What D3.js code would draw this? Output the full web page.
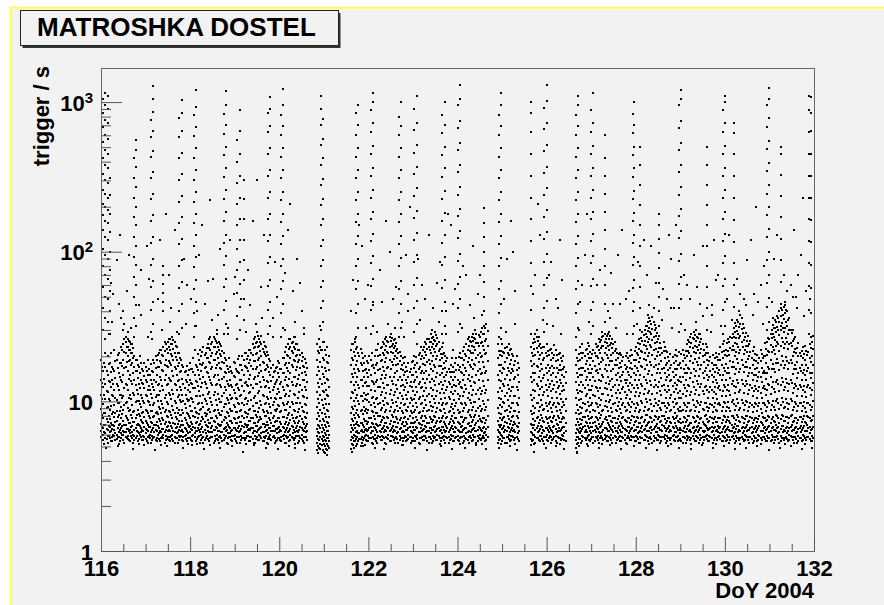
<!DOCTYPE html>
<html>
<head>
<meta charset="utf-8">
<script src="https://cdn.jsdelivr.net/npm/d3@7"></script>
<style>
  body { margin: 0; background: #fff; }
  svg text { font-family: "Liberation Sans", Arial, Helvetica, sans-serif; font-weight: bold; }
</style>
</head>
<body>
<div id="chart"></div>
<script>

// trigger rate samples, one array per day, 20 columns per day (0.05 d apart), [] = no data
// the "b" arrays are the samples taken half a column later
var colStep = 0.05;

var d116 = [
  [5.8,6.3,7.1,8.9,11,14,19], [5.5,6.0,6.6,7.8,9.6,12.5,16], [6.1,5.7,6.9,8.3,10.4,13,17,21],
  [5.3,5.9,6.4,7.3,9.1,11.5,15,20], [5.7,6.2,6.7,7.6,8.7,10,13.5,18], [5.4,5.8,6.5,7.0,8.2,11,14,17,34],
  [5.9,6.4,6.8,7.9,9.4,12,16,22], [5.6,6.0,7.4,8.6,10.2,13,19], [5.2,5.8,6.2,7.0,8.1,9.8,12,15.5,21,45],
  [5.7,6.1,6.6,7.7,9.2,11,14,18,23], [5.5,6.0,6.3,7.4,8.7,10.8,15,19,24,30], [5.8,6.2,6.9,8.0,9.7,13,17,21,25,27],
  [5.6,5.9,6.5,7.5,9.0,12,16,20,23,26,29], [5.4,6.1,6.4,7.2,8.8,11,15,19,22,25], [5.7,6.2,6.8,7.8,9.5,13,18,21,24],
  [5.5,5.9,6.4,7.3,8.6,11,14,17,20], [5.9,6.3,7.0,8.1,10,12,16,19], [5.2,5.6,6.1,6.9,8.2,10,13,17],
  [5.8,6.2,6.6,7.5,9.1,11,14,18,38], [5.5,5.9,6.3,7.2,8.5,10,13,16]
];
var d116b = [
  [6.0,6.7,8.1,10.3,13.2,17], [5.2,6.2,7.0,8.4,11,14.2,18], [5.6,6.5,7.6,9.0,11.8,16],
  [5.9,6.8,8.0,10.4,13.6,17.8], [5.4,6.3,7.2,9.3,12.4,15.8,21], [6.0,6.9,8.5,10.8,13,16.5],
  [5.5,6.1,7.3,8.4,10.6,14.3,18.5], [5.8,6.6,7.9,9.8,12.6,16.8,20.5], [5.4,6.4,7.1,8.6,11,14.6,18],
  [6.0,6.8,8.2,10.5,13.4,17.2,22], [5.3,6.2,7.0,9.4,12.3,16.6,21.5,26], [5.7,6.5,7.7,9.9,12.8,18.2,23.2],
  [5.5,6.3,7.2,8.6,10.6,14.2,18.5,22,25.5], [5.9,6.7,8.1,10.3,13.6,17.5,21,24], [5.3,6.0,7.3,8.5,11.4,15.4,19.6,22.8],
  [5.7,6.6,7.8,9.9,12.8,16,19], [5.4,6.2,7.1,8.7,11.2,14.4,17.6], [6.0,6.8,8.0,9.6,12.2,15.5,20],
  [5.5,6.4,7.3,8.4,10.5,13.2,16.4], [5.8,6.7,7.9,9.7,12.2,14.8,18]
];
var d117 = [
  [5.6,6.1,6.5,7.4,8.8,11,14,17], [5.3,5.8,6.3,7.0,8.3,10,12,15,19], [5.7,6.0,6.7,7.8,9.4,12,15],
  [5.5,5.9,6.4,7.2,8.6,10.5,13,16,26], [5.8,6.2,6.9,8.0,9.8,12,14,18], [5.4,5.7,6.3,7.3,8.5,11,15,19],
  [5.6,6.1,6.6,7.6,9.1,11,13,17,21], [5.1,5.7,6.2,7.1,8.4,10,14,18,22], [5.7,6.0,6.5,7.5,9.0,12,16,20,23],
  [5.5,5.9,6.4,7.3,8.7,11,15,19,24], [5.8,6.3,6.8,7.9,9.6,13,17,21,25], [5.4,5.8,6.3,7.2,8.5,11,14,18,22,26],
  [5.6,6.0,6.6,7.7,9.3,12,16,20,24,27], [5.3,5.8,6.2,7.1,8.4,10,13,17,21,25], [5.7,6.1,6.7,7.6,9.0,12,15,19,23],
  [5.5,5.9,6.4,7.4,8.8,11,14,18,21], [5.9,6.3,6.9,8.1,9.9,12,16,19], [5.4,5.8,6.2,7.0,8.3,10,13,17],
  [5.6,6.0,6.5,7.5,9.0,11,14,16,33], [5.2,5.7,6.1,6.9,8.2,10,12,15]
];
var d117b = [
  [5.4,6.4,7.2,8.6,10.8,13.4,16], [5.9,6.7,8.0,9.9,12.6,16.4], [5.3,6.2,7.3,8.6,11.2,13.8,17.8],
  [5.7,6.6,7.9,9.4,12.5,15.6,19], [5.5,6.4,7.0,8.4,10.7,13.5,16.6,20], [6.0,6.8,8.2,10.1,12.8,17,20.5],
  [5.4,6.3,7.4,8.9,11.8,14.6,18.6,22], [5.8,6.5,7.8,9.6,12.6,16.2,20.4], [5.3,6.2,7.1,8.5,10.6,13.8,17.6,21.6,25],
  [5.6,6.7,8.0,9.9,12.9,17.2,22.4], [5.5,6.4,7.3,8.6,11.4,14.4,18.5,23,26], [5.9,6.8,8.1,10.4,13.6,17.4,20.6,24.2],
  [5.4,6.3,7.2,8.8,11.2,14.8,18.8,22.4,25.8], [5.7,6.6,7.9,9.7,12.8,16.4,19.8,23.4], [5.3,6.2,7.1,8.4,10.7,13.6,17.2,21],
  [5.8,6.7,8.1,10.2,12.4,15.6,19.4], [5.5,6.4,7.4,8.7,11,14.2,17.4], [5.9,6.6,7.8,9.6,12.2,15.6],
  [5.4,6.3,7.2,8.4,10.4,13.4,17.2], [5.7,6.7,8.0,10.2,12.8,16.2]
];
var d118 = [
  [5.7,6.2,6.8,7.7,9.3,11.5,14,18], [5.4,5.9,6.4,7.1,8.6,10.3,13,16.5], [5.8,6.1,6.6,7.9,9.0,12.2,15,22],
  [5.2,5.6,6.3,7.3,8.4,10.8,13.5,17,40], [5.9,6.4,7.0,8.2,9.7,11.8,15,19], [5.5,6.0,6.5,7.4,8.9,12.5,16,20],
  [5.3,5.8,6.2,7.6,9.2,11,14.5,18,23], [5.7,6.1,6.9,8.0,10.1,13,17,21], [5.6,6.3,6.7,7.5,8.7,11.2,15.5,19.5,24],
  [5.1,5.7,6.2,7.2,8.5,10.5,14,18,22,27], [5.8,6.2,6.8,7.8,9.5,12.8,17,21,25], [5.4,5.9,6.4,7.3,8.8,11.6,15,19,23,26],
  [5.6,6.0,6.6,7.7,9.4,13,17.5,21.5,24.5,28], [5.3,5.8,6.3,7.0,8.3,10.4,14,18,22,25], [5.7,6.2,6.9,8.1,9.9,12.5,16.5,20,23.5],
  [5.5,6.0,6.5,7.5,9.1,11.4,14.5,18,21], [5.9,6.3,6.7,7.8,9.6,12,15.5,19], [5.2,5.7,6.1,7.0,8.4,10.2,13,16.5,31],
  [5.8,6.1,6.6,7.4,8.9,11,14,17], [5.4,5.9,6.4,7.2,8.6,10.6,12.5,15.5]
];
var d118b = [
  [5.5,6.5,7.3,8.6,10.6,13.2,16.4], [6.0,6.7,8.0,9.9,12.3,15.6,19.6], [5.4,6.3,7.2,8.5,10.9,13.6,17.6],
  [5.8,6.6,7.8,9.6,12.6,16.2,20.6], [5.3,6.2,7.1,8.7,10.8,14.2,17.8,22], [5.7,6.7,7.9,9.8,13.2,17.4,21.4],
  [5.5,6.4,7.3,8.4,10.4,13.4,16.6,20.4], [5.9,6.8,8.2,9.6,12.2,15.6,19.4,22.6], [5.4,6.2,7.2,8.9,11.6,14.6,18.2,22.6,26],
  [5.8,6.6,7.8,9.9,13.3,16.4,20.2,24], [5.3,6.4,7.4,8.6,11,14.6,19,23,27], [5.6,6.7,8.0,10.2,12.8,16.6,20.6,25.2],
  [5.5,6.3,7.1,8.7,11.2,15,19.4,23], [5.9,6.8,8.1,9.9,12.9,16.6,20.8,24], [5.4,6.2,7.3,8.6,10.8,14.2,18.2,21.6],
  [5.7,6.6,7.9,9.6,12.4,15.8,19.6], [5.3,6.4,7.2,8.5,10.6,13.6,17.2], [5.8,6.7,8.0,9.8,12.6,15.6,19.6],
  [5.5,6.3,7.4,8.6,10.4,12.8,16], [5.9,6.6,7.8,9.5,12,14.8,18.4]
];
var d119 = [
  [5.6,6.0,6.6,7.6,9.2,11.3,14.5,18], [5.3,5.8,6.3,7.2,8.5,10.4,13,16], [5.8,6.2,6.8,7.9,9.6,12,15.5,20],
  [5.5,5.9,6.5,7.3,8.8,11,14,17.5,48], [5.7,6.1,6.7,7.7,9.4,11.8,15,19], [5.2,5.7,6.2,7.0,8.3,10.6,13.5,17,21],
  [5.9,6.4,6.9,8.2,10,12.6,16,20], [5.4,5.8,6.4,7.4,8.9,11.5,15,19,22], [5.6,6.1,6.6,7.8,9.3,12.2,16.5,20.5,24],
  [5.3,5.9,6.3,7.2,8.6,10.9,14.5,18.5,23,27], [5.8,6.2,6.8,7.9,9.7,13,17,21,25,29], [5.5,6.0,6.5,7.5,9.0,11.7,15.5,19.5,23.5,26],
  [5.7,6.1,6.7,7.6,9.4,12.4,16,20,24,27.5], [5.4,5.8,6.2,7.1,8.5,10.8,14,18,21.5,25], [5.9,6.3,6.9,8.0,9.8,12.7,16.5,20,23],
  [5.2,5.6,6.1,7.0,8.4,10.3,13.5,17,20.5], [5.6,6.0,6.6,7.5,9.1,11.6,15,18.5], [5.8,6.3,6.8,7.8,9.5,12,14.5,17.5,36],
  [5.3,5.7,6.3,7.3,8.7,10.5,13,16], [5.5,6.1,6.5,7.4,8.9,11.2,14,17]
];
var d119b = [
  [5.4,6.4,7.2,8.5,10.5,12.9,16.4], [5.8,6.6,7.8,9.7,12.2,15.6,19.2], [5.3,6.3,7.3,8.6,10.8,13.8,17.4],
  [5.7,6.8,8.0,9.8,12.6,16.2,20.2], [5.5,6.2,7.1,8.5,10.4,13.2,17.2,21], [5.9,6.7,7.9,9.6,12.8,16.6,19.2],
  [5.4,6.5,7.4,8.7,11.4,14.2,18,22], [5.8,6.6,7.8,10.2,12.8,17.2,21], [5.3,6.3,7.2,8.6,10.6,14.2,18.6,22.6,26],
  [5.6,6.8,8.1,9.8,13,16.4,20.8,24.6], [5.5,6.4,7.3,8.5,11.4,14.8,19,23.2,27.4], [5.9,6.6,7.9,10.1,13.4,17.6,21.8,25],
  [5.4,6.2,7.1,8.7,11,14.6,18.4,22.4], [5.7,6.7,8.0,9.6,12.4,16.2,20.6,23.6], [5.3,6.4,7.3,8.6,10.7,13.6,17.6,21.4],
  [5.8,6.6,7.7,9.6,12.3,15.6,19.2], [5.5,6.3,7.2,8.4,10.6,13.6,16.8], [5.9,6.8,8.0,9.9,12.4,15.8],
  [5.4,6.5,7.4,8.6,10.4,13.4,16.6], [5.7,6.6,7.8,9.5,12.1,15.4,18.6]
];
var d120 = [
  [5.7,6.2,6.7,7.7,9.3,11.5,14.5,18], [5.4,5.8,6.3,7.1,8.6,10.6,13.5,16.5], [5.6,6.0,6.6,7.9,9.5,12,15.5,19.5],
  [5.3,5.9,6.4,7.3,8.8,11.2,14.5,18,23], [5.8,6.2,6.9,8.1,9.9,12.6,16,20,24], [5.5,6.0,6.5,7.5,9.1,11.8,15.5,19.5,23,26],
  [5.7,6.1,6.7,7.8,9.6,12.8,17,21,25], [5.2,5.7,6.2,7.2,8.6,11,14.5,18.5,22.5,27], [5.9,6.3,6.8,7.9,9.8,13,17,20.5,24],
  [5.4,5.9,6.4,7.4,8.9,11.6,15,19,22], [5.6,6.0,6.6,7.6,9.2,12,15.5,18.5,21], [5.3,5.8,6.3,7.1,8.5,10.7,14,17,31],
  [5.8,6.2,6.8,7.8,9.4,11.9,15,18],
  [], [], [], [],
  [4.7,5.3,5.9,6.5,7.6,9.2,11.5,15,19,24], [4.9,5.5,6.1,6.8,8.0,9.8,12.5,16,21,26], [5.1,5.6,6.2,7.0,8.3,10.2,13,17,22]
];
var d120b = [
  [5.5,6.4,7.3,8.5,10.5,13,16.4], [5.9,6.7,7.9,9.8,12.4,15.4,19.4], [5.3,6.2,7.1,8.7,10.8,13.8,17.6,21.4],
  [5.7,6.6,7.8,9.6,12.8,16.6,20.4], [5.4,6.3,7.2,8.4,10.8,14.2,18,22.4,26], [5.8,6.8,8.1,9.9,13.4,17.6,21.6,24.4],
  [5.5,6.4,7.4,8.7,11.2,14.6,19,23,27], [5.9,6.6,7.8,9.8,12.6,16.2,20.2,24], [5.3,6.2,7.2,8.5,10.6,14.2,18.4,22],
  [5.7,6.7,8.0,9.7,12.8,16.6,20.4], [5.4,6.4,7.3,8.6,10.9,13.8,17.2,19.8], [5.8,6.6,7.9,9.6,12.4,15.6,19.2],
  [5.5,6.3,7.1,8.4,10.6,13.4,16.6],
  [], [], [], [],
  [4.5,5.0,5.6,6.2,7.0,8.4,10.4,13.2,17,21.6], [4.8,5.2,5.8,6.6,7.4,8.8,11,14.2,18.2,23], [4.7,5.4,5.9,6.6,7.6,9.4,11.8,15.2,19.4]
];
var d121 = [
  [4.6,5.2,5.8,6.4,7.4,9.0,11.5,14.5,19,25], [4.8,5.4,6.0,6.7,7.9,9.6,12,16,20.5], [5.0,5.7,6.3,7.2,8.6,10.8,14,18],
  [], [], [], [], [], [], [], [], [],
  [4.8,5.5,6.2,7.0,8.4,10.5,13.5,17.5,22], [5.1,5.7,6.4,7.4,8.9,11.3,14.5,19,24], [5.4,5.9,6.6,7.7,9.3,12,15.5,20,25],
  [5.2,5.8,6.3,7.3,8.8,11.1,14.5,18.5,23], [5.6,6.1,6.8,7.9,9.6,12.3,16,20], [5.3,5.8,6.4,7.2,8.7,10.9,14,17.5,21],
  [5.7,6.2,6.7,7.6,9.1,11.4,14.5,18], [5.5,6.0,6.5,7.4,8.9,11,13.5,16.5]
];
var d121b = [
  [4.5,5.0,5.5,6.1,6.9,8.2,10.4,13.2,16.8,22], [4.7,5.2,5.7,6.3,7.3,8.8,11,14.2,18.2,23], [4.9,5.4,6.0,6.8,7.9,9.6,12.4,16.2,20],
  [], [], [], [], [], [], [], [], [],
  [4.6,5.2,5.8,6.6,7.6,9.2,11.6,15.2,19.6,24], [4.9,5.4,6.0,6.9,8.1,10,12.8,16.4,21.4], [5.0,5.6,6.2,7.1,8.4,10.5,13.4,17.4,22.4],
  [5.4,6.1,6.9,8.1,10,12.8,16.4,21], [5.0,5.6,6.3,7.2,8.6,10.8,14,18,22.4], [5.5,6.2,7.0,8.2,10,12.6,16,19.6],
  [5.1,5.9,6.4,7.4,8.6,10.4,13.2,16.2,20], [5.4,6.3,7.1,8.3,10.2,12.6,15.4,18.6]
];
var d122 = [
  [5.4,5.9,6.4,7.3,8.8,11.2,14.5,18], [5.7,6.1,6.7,7.8,9.5,12,15,19], [5.2,5.8,6.3,7.1,8.5,10.7,13.5,17.5,44],
  [5.6,6.0,6.6,7.6,9.2,11.7,15.5,20], [5.3,5.7,6.2,7.0,8.4,10.5,14,18,22], [5.8,6.3,6.9,8.0,9.8,12.5,16.5,20.5],
  [5.5,5.9,6.5,7.5,9.0,11.6,15,19,23], [5.7,6.2,6.8,7.7,9.4,12.2,16,20.5,24], [5.2,5.8,6.3,7.2,8.7,11.3,15,19.5,23.5,27],
  [5.6,6.0,6.6,7.8,9.6,12.8,17,21,25], [5.4,5.9,6.4,7.4,9.1,12,16.5,21.5,25.5,28], [5.8,6.2,6.8,7.9,9.8,13,17.5,21,24],
  [5.3,5.7,6.3,7.3,8.8,11.5,15.5,20,23.5,26], [5.6,6.1,6.7,7.6,9.3,12.1,16,19.5,22.5], [5.5,5.9,6.5,7.5,9.0,11.4,14.5,18.5,21.5],
  [5.1,5.7,6.2,7.1,8.6,10.8,14,17.5,34], [5.7,6.2,6.8,7.8,9.5,12,15,18], [5.4,5.8,6.4,7.3,8.8,11.1,14,17],
  [5.6,6.0,6.6,7.6,9.2,11.6,14.5,18,52], [5.3,5.8,6.3,7.2,8.6,10.6,13.5,16.5]
];
var d122b = [
  [5.7,6.6,7.8,9.9,12.6,16.2,20.2], [5.3,6.3,7.2,8.6,10.6,13.6,17.2,21], [5.6,6.7,8.0,9.8,13,16.6],
  [5.4,6.4,7.1,8.4,10.4,13.4,17.6,22], [5.9,6.8,8.0,9.6,12.4,16.2,20.2,24], [5.5,6.2,7.3,8.7,11,14.2,18.6,22.6],
  [5.8,6.6,7.9,10.1,13.2,17,21.2,25], [5.3,6.4,7.2,8.5,10.6,14.4,18.2,22.2,26], [5.7,6.7,7.9,9.8,12.8,16.8,21.4,25.4],
  [5.4,6.3,7.1,8.6,11.2,14.6,19,23.2,27], [5.9,6.6,8.1,10.2,13.6,18.4,23.4,26.6], [5.5,6.4,7.3,8.5,11,14.6,19.2,22.6,25.8],
  [5.8,6.7,7.9,9.9,12.8,17.4,21.6,24.6], [5.3,6.2,7.2,8.6,10.6,14,17.8,21.2], [5.7,6.6,7.8,9.7,12.6,16.4,20.2],
  [5.4,6.3,7.3,8.4,10.4,12.8,16.2,19.6], [5.9,6.8,7.9,9.6,12.4,15.8,19.8], [5.5,6.4,7.1,8.6,10.4,13.2,16],
  [5.8,6.7,8.0,9.8,12.6,15.8], [5.4,6.2,7.2,8.4,10.2,12.4,15,18.2]
];
var d123 = [
  [5.7,6.1,6.7,7.7,9.3,11.8,15,18.5], [5.4,5.9,6.4,7.3,8.8,11.1,14,17.5], [5.6,6.0,6.6,7.5,9.1,11.5,14.5,18,24],
  [5.2,5.7,6.2,7.1,8.5,10.7,13.5,17,21], [5.8,6.3,6.9,8.0,9.8,12.5,16,20], [5.5,5.9,6.5,7.4,9.0,11.7,15.5,19.5,23],
  [5.7,6.2,6.7,7.8,9.5,12.3,16,20.5,24], [5.3,5.8,6.3,7.2,8.7,11.2,15,19,23,26], [5.6,6.1,6.6,7.6,9.3,12.2,16.5,21,25,28],
  [5.4,5.9,6.4,7.5,9.1,12,16,20,24,27], [5.8,6.2,6.8,7.9,9.7,12.9,17,21.5,25.5,29], [5.5,6.0,6.5,7.4,9.0,11.8,15.5,20,24,26.5],
  [5.2,5.7,6.3,7.3,8.8,11.4,15,19,22.5], [5.7,6.1,6.7,7.7,9.4,12.1,15.5,19.5,23], [5.5,5.9,6.4,7.3,8.9,11.3,14.5,18,21],
  [5.8,6.3,6.8,7.8,9.6,12,15,18.5,40], [5.3,5.8,6.2,7.1,8.5,10.7,13.5,16.5], [5.6,6.0,6.6,7.6,9.2,11.6,14.5,17.5],
  [5.4,5.9,6.5,7.4,8.9,11.2,14,17,22], [5.7,6.2,6.7,7.7,9.3,11.7,14.5,18]
];
var d123b = [
  [5.4,6.4,7.2,8.5,10.4,13.4,16.6,20], [5.8,6.7,7.9,9.8,12.4,15.8,19.8], [5.3,6.2,7.2,8.4,10.4,13,16.4,20.4],
  [5.7,6.6,7.8,9.6,12.2,15.4,19.2,23], [5.5,6.4,7.4,8.6,10.8,14.2,17.8,22], [5.9,6.8,8.0,10.2,13.2,17.4,21.4,25],
  [5.4,6.3,7.2,8.6,10.8,14.2,18.2,22.4,26], [5.8,6.6,7.9,9.9,13.4,17.8,22.2,24.8], [5.3,6.4,7.3,8.6,10.8,14.2,18.6,23,26.6],
  [5.7,6.7,8.0,10.4,13.6,17.6,22.4,25.6], [5.5,6.3,7.2,8.5,10.9,14.6,19.2,23.6,27.8], [5.9,6.6,7.8,9.8,13,17.2,21.8,25],
  [5.4,6.4,7.4,8.6,10.4,13.4,17.2,20.8], [5.8,6.7,8.0,9.7,12.8,16.4,20.6,24.4], [5.3,6.2,7.1,8.4,10.6,13.6,16.8,20],
  [5.7,6.6,7.9,9.8,12.4,15.6,19.6], [5.5,6.4,7.3,8.6,10.4,13,15.8], [5.9,6.8,8.0,9.6,12.4,15.8,19.4],
  [5.4,6.2,7.2,8.4,10.2,12.8,15.6], [5.8,6.6,7.8,9.8,12.6,16.2,19.6]
];
var d124 = [
  [5.5,5.9,6.4,7.3,8.8,11.2,14,17.5], [5.2,5.7,6.2,7.1,8.5,10.8,13.5,17,21], [5.8,6.2,6.8,7.9,9.6,12.2,15.5,19.5],
  [5.4,5.9,6.5,7.5,9.0,11.6,15,19,23], [5.6,6.1,6.6,7.7,9.4,12.1,16,20,24], [5.3,5.8,6.3,7.2,8.7,11.3,15,19.5,23.5,27],
  [5.7,6.2,6.8,7.9,9.7,12.7,17,21,25], [5.5,6.0,6.5,7.5,9.2,12,16.5,21,25.5,28], [5.8,6.3,6.9,8.1,9.9,13.2,17.5,22,26,30],
  [5.4,5.9,6.4,7.4,9.0,11.9,16,20.5,24.5], [5.6,6.0,6.6,7.6,9.3,12.2,16.5,21,27], [5.2,5.7,6.3,7.3,8.9,11.7,15.5,20,25,31],
  [5.7,6.1,6.7,7.8,9.6,12.6,17,22,28], [5.5,6.0,6.5,7.5,9.2,12,16,21,26,33],
  [], [], [], [],
  [5.3,5.8,6.4,7.4,9.0,11.6,15,19.5,24], [5.6,6.1,6.7,7.8,9.5,12.3,16,20.5]
];
var d124b = [
  [5.4,6.3,7.2,8.4,10.4,13,16.2,19.8], [5.8,6.7,7.9,9.8,12.4,15.8,19.4], [5.3,6.4,7.3,8.6,10.8,13.8,17.6,21.6],
  [5.7,6.6,7.8,9.7,12.8,16.6,20.8], [5.5,6.2,7.1,8.5,10.6,14.2,18.2,22.2,26], [5.9,6.8,8.1,10.2,13.6,17.6,21.8,25.4],
  [5.4,6.4,7.3,8.7,11,14.6,19,23.4,27], [5.8,6.6,7.9,9.9,13.4,17.8,23,26.6], [5.3,6.3,7.2,8.6,11.2,15,19.6,24.4,28.4],
  [5.7,6.7,8.0,10.4,13.8,18.4,23.4,27.6], [5.5,6.4,7.4,8.6,11.2,15.2,19.8,24.6,29], [5.9,6.6,7.8,10,13.6,18.2,23.4,28.4],
  [5.4,6.2,7.2,8.7,11.4,15.4,20.6,25.2,31], [5.8,6.7,8.0,10.2,13.8,18.6,23.6,29.4],
  [], [], [], [],
  [5.5,6.2,7.0,8.4,10.6,13.8,17.6,21.6], [5.2,6.0,6.9,8.2,10.4,13.6,17.4,21.8,26]
];
var d125 = [
  [5.4,5.9,6.5,7.5,9.1,11.8,15.5,20,24], [5.7,6.2,6.8,7.9,9.7,12.6,16.5,21], [5.3,5.8,6.3,7.2,8.8,11.4,15,19.5,23],
  [5.6,6.0,6.6,7.6,9.3,12.1,16,20.5,24], [5.5,5.9,6.4,7.4,9.0,11.7,15.5,19,22.5], [5.8,6.3,6.9,8.0,9.8,12.5,16,20],
  [5.2,5.7,6.2,7.1,8.6,10.9,14.5,18.5], [5.6,6.1,6.7,7.7,9.4,12,15,18],
  [], [], [], [], [],
  [5.1,5.6,6.2,7.1,8.6,11,14.5,18.5,23], [5.5,6.0,6.6,7.6,9.3,12,15.5,20,24.5], [5.3,5.8,6.4,7.4,9.0,11.8,15.5,20.5,25,28],
  [5.7,6.2,6.8,7.9,9.7,12.7,17,21.5,25.5], [5.4,5.9,6.5,7.5,9.2,12.1,16,20.5,24], [5.6,6.1,6.7,7.8,9.5,12.4,16.5,21],
  [5.2,5.8,6.3,7.3,8.9,11.5,15,19.5,23]
];
var d125b = [
  [5.7,6.6,7.8,9.9,13,16.8,21.4], [5.3,6.4,7.3,8.6,10.8,14.2,18.4,22.6], [5.8,6.7,8.0,10.2,12.8,16.6,21],
  [5.4,6.2,7.1,8.5,10.8,13.8,17.8,22], [5.9,6.6,7.9,9.7,12.4,16.4,20.6], [5.5,6.4,7.3,8.6,10.8,14.2,17.6],
  [5.8,6.8,8.0,9.8,12.4,16.2,20], [5.4,6.3,7.2,8.5,10.6,13.4,16.6],
  [], [], [], [], [],
  [5.4,6.1,7.0,8.2,10.2,13.4,17.2,21.2], [5.2,6.0,6.9,8.3,10.6,13.8,17.8,22.4,26.2], [5.7,6.6,7.8,9.8,13,17.2,22.6,26.8],
  [5.5,6.3,7.2,8.6,11,14.6,19.2,23.4,27], [5.9,6.8,8.1,10.2,13.6,17.8,22.6], [5.4,6.4,7.4,8.7,11,14.4,18.8,23.2],
  [5.8,6.6,7.9,9.8,12.8,16.6,21.2]
];
var d126 = [
  [5.5,6.0,6.6,7.6,9.3,12,15.5,20,24], [5.7,6.2,6.8,7.8,9.6,12.4,16,20.5], [5.3,5.8,6.4,7.4,9.0,11.7,15,19,22.5],
  [5.6,6.1,6.7,7.7,9.4,12.1,15.5,19.5], [5.4,5.9,6.5,7.5,9.1,11.6,14.5,18.5,22], [5.8,6.3,6.9,8.0,9.8,12.3,15.5,19],
  [5.2,5.7,6.3,7.3,8.8,11.2,14,17.5,21], [5.6,6.0,6.6,7.6,9.2,11.8,15,18.5], [5.5,6.1,6.7,7.8,9.5,12,14.5,17],
  [], [], [], [],
  [4.9,5.5,6.1,6.9,8.3,10.5,13.5,17.5,22], [5.3,5.8,6.4,7.3,8.8,11.3,14.5,18.5], [5.6,6.1,6.6,7.6,9.2,11.8,15,19,23],
  [5.4,5.9,6.5,7.5,9.0,11.6,15,19.5,24], [5.7,6.2,6.8,7.9,9.6,12.3,16,20], [5.2,5.7,6.2,7.2,8.7,11.2,14.5,18.5,22.5],
  [5.5,6.0,6.6,7.6,9.3,12,15.5,19.5,23.5]
];
var d126b = [
  [5.4,6.4,7.2,8.6,10.8,14,17.6,21.6], [5.9,6.6,7.9,9.9,13,16.8,22], [5.5,6.3,7.3,8.5,10.6,13.6,17.2,21],
  [5.8,6.8,8.0,9.8,12.8,16.6,20.4,23.8], [5.3,6.2,7.1,8.6,10.6,13.4,16.6,20.4], [5.7,6.6,7.8,9.6,12.6,16.2,20.6],
  [5.5,6.4,7.3,8.4,10.4,13.2,16.2,19.6], [5.9,6.7,7.9,9.9,12.6,16.4,20.2], [5.4,6.3,7.2,8.6,10.4,13.2,15.8],
  [], [], [], [],
  [4.6,5.2,5.8,6.5,7.6,9.4,12,15.4,19.4], [5.0,5.6,6.2,7.0,8.2,10.2,12.8,16.4,20.6], [5.3,6.3,7.1,8.4,10.4,13.4,16.8,21],
  [5.8,6.7,7.9,9.8,12.8,16.6,21.2], [5.5,6.4,7.3,8.6,10.8,14,17.8,22], [5.9,6.8,8.0,9.9,12.8,16.4,20.6,24.6],
  [5.4,6.3,7.2,8.5,10.6,13.8,17.4,21.4]
];
var d127 = [
  [5.6,6.1,6.7,7.7,9.4,12,15.5,19.5], [5.3,5.8,6.3,7.2,8.7,11.1,14.5,18.5,22], [5.8,6.2,6.8,7.9,9.7,12.5,16,20,24],
  [5.5,5.9,6.5,7.5,9.1,11.8,15.5,19.5,23.5], [5.7,6.1,6.7,7.7,9.4,12.3,16.5,21,25], [5.2,5.7,6.2,7.1,8.6,11.2,15,19.5,23.5,27],
  [5.6,6.0,6.6,7.6,9.3,12.2,16.5,21,25,28], [5.4,5.9,6.5,7.5,9.2,12.1,16,20.5,24.5,27.5], [5.8,6.3,6.9,8.0,9.9,13,17.5,22,26,29],
  [5.5,6.0,6.5,7.4,9.0,11.9,16,20.5,24.5], [5.7,6.2,6.8,7.8,9.6,12.5,16.5,21,24], [5.3,5.8,6.3,7.2,8.8,11.4,15,19,22.5],
  [5.6,6.1,6.6,7.6,9.3,12,15.5,19.5], [5.4,5.9,6.4,7.3,8.9,11.3,14.5,18,21,45], [5.8,6.2,6.8,7.8,9.5,12.1,15,18.5],
  [5.5,6.0,6.5,7.5,9.1,11.5,14,17.5], [5.2,5.7,6.3,7.3,8.8,11.1,14,17,21], [5.7,6.1,6.7,7.7,9.4,11.9,15,18.5],
  [5.5,5.9,6.5,7.5,9.1,11.5,14.5,18,22], [5.8,6.3,6.9,7.9,9.6,12.2,15.5,19]
];
var d127b = [
  [5.8,6.7,7.9,9.8,12.6,16.4,20.6], [5.4,6.4,7.3,8.6,10.8,13.6,17.2,21], [5.7,6.6,7.8,9.6,12.2,16.2,20.2,23],
  [5.3,6.2,7.1,8.4,10.6,13.8,17.8,22.2,26], [5.9,6.8,8.1,10.2,13.6,18.2,22.8,25.8], [5.5,6.4,7.3,8.7,11.2,14.6,19,23.4,27.2],
  [5.8,6.6,7.9,10,13.2,17.6,22.6,26.2], [5.4,6.3,7.2,8.6,11,14.6,19.4,23.6,28], [5.7,6.7,8.0,10.2,13.6,18.6,23.8,27.4],
  [5.3,6.4,7.3,8.5,10.8,14.2,18.6,22.6,26], [5.9,6.6,7.8,9.8,12.8,17.4,21.6,25], [5.5,6.3,7.2,8.6,10.6,13.8,17.6,21],
  [5.8,6.8,8.0,9.9,12.8,16.8,20.8], [5.4,6.2,7.1,8.4,10.4,13.6,17,20.4], [5.7,6.6,7.9,9.7,12.4,15.8,19.8],
  [5.3,6.4,7.4,8.6,10.6,13.2,16.4,20.2], [5.9,6.7,7.8,9.8,12.6,15.6,19.6], [5.5,6.3,7.2,8.5,10.4,13.2,16.6,20.2],
  [5.8,6.6,8.0,9.9,12.8,16.4,20.4], [5.4,6.4,7.3,8.6,10.8,13.8,17.2,21.6]
];
var d128 = [
  [5.4,5.9,6.4,7.4,9.0,11.6,15,19,23], [5.6,6.1,6.7,7.8,9.5,12.3,16,20.5,24.5], [5.3,5.8,6.3,7.2,8.8,11.4,15,19.5,24],
  [5.7,6.2,6.8,7.9,9.7,12.7,17,21.5,25.5,29], [5.5,6.0,6.5,7.5,9.2,12.1,16.5,21,25.5,30], [5.8,6.3,6.9,8.1,9.9,13.2,17.5,22.5,27,32],
  [5.2,5.7,6.3,7.3,8.9,11.8,16,21,26,31,36], [5.6,6.1,6.7,7.8,9.6,12.8,17.5,23,28,33], [5.4,5.9,6.5,7.5,9.3,12.4,17,22,27,34],
  [5.7,6.2,6.8,7.9,9.7,12.9,17.5,22.5,27.5,31], [5.5,6.0,6.6,7.6,9.4,12.5,16.5,21.5,26], [5.3,5.8,6.4,7.3,9.0,11.8,15.5,20.5,24.5],
  [5.8,6.3,6.9,8.0,9.8,12.6,16.5,21], [5.6,6.0,6.6,7.6,9.3,12,15.5,19.5,23], [5.4,5.9,6.5,7.4,9.0,11.5,14.5,18,21.5],
  [5.7,6.2,6.8,7.8,9.5,12,15,18.5], [5.2,5.7,6.3,7.2,8.7,11,14,17.5,42], [5.5,6.0,6.6,7.6,9.2,11.6,14.5,18],
  [5.8,6.2,6.8,7.8,9.6,12.1,15,18.5,22], [5.4,5.9,6.4,7.4,8.9,11.3,14,17.5]
];
var d128b = [
  [5.8,6.7,7.9,9.8,12.8,16.6,21.2], [5.3,6.2,7.2,8.5,10.8,14,18.2,22.4,26.2], [5.7,6.6,7.8,10,13,17.2,21.6,26.6],
  [5.5,6.4,7.3,8.6,11.2,14.6,19.2,23.8,27.8], [5.9,6.8,8.1,10.4,13.8,18.8,23.6,28,32], [5.4,6.3,7.2,8.7,11.4,15.2,20.2,25,29.6,34],
  [5.8,6.6,7.9,10.2,13.6,18.4,23.8,29,34.6], [5.3,6.4,7.3,8.6,11.2,15,20.4,25.6,30.6,36.6], [5.7,6.7,8.0,10.4,14,19.2,24.6,29.8,32.4],
  [5.5,6.2,7.1,8.6,11.4,15.4,20,24.8,28.8], [5.9,6.6,7.9,10.1,13.4,17.8,22.8,27.2], [5.4,6.4,7.4,8.7,11,14.4,18.6,22.6],
  [5.8,6.8,8.0,9.8,12.8,16.8,21.6,25], [5.3,6.3,7.2,8.5,10.6,13.8,17.6,21.6], [5.7,6.6,7.8,9.7,12.6,16.2,19.8],
  [5.5,6.4,7.3,8.6,10.6,13.6,16.6,20.6], [5.9,6.7,7.9,9.9,12.6,15.8,19.8], [5.4,6.2,7.2,8.4,10.4,13.2,16.4,20.4],
  [5.8,6.6,8.0,9.8,12.8,16.4,20.2], [5.5,6.4,7.3,8.6,10.6,13.6,17.4,21.4]
];
var d129 = [
  [5.6,6.1,6.6,7.6,9.2,11.7,14.5,18], [5.3,5.8,6.3,7.3,8.8,11.2,14.5,18.5,22], [5.7,6.2,6.8,7.8,9.5,12.2,15.5,19.5],
  [5.5,5.9,6.5,7.5,9.1,11.8,15.5,20,24], [5.8,6.3,6.9,8.0,9.8,12.7,16.5,21,25], [5.2,5.7,6.2,7.2,8.8,11.5,15.5,20,24.5,28],
  [5.6,6.1,6.7,7.7,9.5,12.5,16.5,21.5,26,29], [5.4,5.9,6.4,7.4,9.1,12,16,21,25.5,30], [5.7,6.2,6.8,7.9,9.8,13,17.5,22,26.5],
  [5.5,6.0,6.6,7.6,9.4,12.4,16.5,21,25,28], [5.3,5.8,6.3,7.3,8.9,11.7,15.5,20,24], [5.8,6.3,6.9,8.0,9.7,12.5,16,20.5],
  [5.6,6.0,6.6,7.6,9.2,11.9,15,19,23], [5.4,5.9,6.5,7.4,9.0,11.5,14.5,18.5], [5.7,6.2,6.7,7.7,9.4,11.9,15,18,38],
  [5.5,6.0,6.6,7.6,9.2,11.6,14.5,17.5], [5.2,5.7,6.3,7.3,8.8,11.2,14,17.5,21], [5.8,6.2,6.8,7.8,9.6,12.2,15.5,19],
  [5.6,6.1,6.7,7.7,9.4,12,15,19,23], [5.4,5.9,6.5,7.5,9.1,11.7,15,19.5,24]
];
var d129b = [
  [5.4,6.4,7.2,8.6,10.6,13.4,16.6,20.6], [5.8,6.6,7.9,9.8,12.8,16.4,20.4], [5.3,6.2,7.3,8.6,10.8,13.8,17.6,21.8],
  [5.7,6.8,8.0,9.8,12.8,16.8,21.6,25.6], [5.5,6.4,7.2,8.6,11,14.4,18.6,23,27], [5.9,6.6,7.9,10.2,13.4,18,22.8,26.6],
  [5.4,6.3,7.3,8.6,11.2,14.8,19.2,23.6,27.8], [5.8,6.7,8.0,10.1,13.6,18.2,23.2,27], [5.3,6.4,7.2,8.5,11,14.8,19.4,23.8,28.4],
  [5.7,6.6,7.8,9.9,13,17.4,22.4,26.2], [5.5,6.2,7.1,8.7,11.2,14.4,18.2,22.2], [5.9,6.8,8.1,9.8,12.6,16.6,21.2,24],
  [5.4,6.4,7.3,8.6,10.6,13.8,17.4,21.2], [5.8,6.6,7.9,9.6,12.4,16,19.8], [5.3,6.3,7.2,8.5,10.6,13.4,16.4,20.4],
  [5.7,6.7,7.9,9.8,12.4,15.6,19.4], [5.5,6.4,7.3,8.6,10.4,13.2,16.6,19.8], [5.9,6.6,7.8,9.7,12.6,16.2,20.6],
  [5.4,6.2,7.2,8.6,10.8,13.8,17.4,21.4], [5.8,6.7,8.0,9.9,12.8,16.6,21.6,25.4]
];
var d130 = [
  [5.7,6.2,6.8,7.9,9.7,12.5,16,20.5], [5.5,6.0,6.5,7.5,9.2,12,15.5,20,24.5], [5.3,5.8,6.4,7.4,9.0,11.8,15.5,20.5,25],
  [5.8,6.3,6.9,8.0,9.9,13,17,22,26.5], [5.6,6.1,6.7,7.8,9.6,12.7,17,22,27,31], [5.4,5.9,6.5,7.5,9.3,12.4,16.5,21.5,26.5,32],
  [5.7,6.2,6.8,7.9,9.8,13.2,18,23,28,34], [5.2,5.7,6.3,7.3,9.0,12,16.5,22,27.5,33,38], [5.6,6.1,6.7,7.8,9.7,13,17.5,23,28.5,33],
  [5.5,6.0,6.6,7.6,9.4,12.6,17,22,27], [5.8,6.3,6.9,8.0,9.9,13,17,21.5,25.5], [5.3,5.8,6.4,7.4,9.1,11.9,15.5,20,24],
  [5.6,6.1,6.7,7.7,9.5,12.2,15.5,19.5], [5.4,5.9,6.5,7.5,9.2,11.8,15,19,23], [5.7,6.2,6.8,7.8,9.6,12.1,15,18.5],
  [5.5,6.0,6.6,7.6,9.3,11.8,14.5,18,46], [5.2,5.7,6.3,7.3,8.9,11.4,14.5,18.5,22], [5.8,6.3,6.9,7.9,9.7,12.3,15.5,19.5],
  [5.6,6.1,6.7,7.7,9.5,12.1,15.5,20,24.5], [5.4,5.9,6.5,7.5,9.2,11.9,15.5,20.5,25]
];
var d130b = [
  [5.4,6.4,7.3,8.6,10.8,14,17.8,22.2], [5.8,6.7,7.9,9.9,12.8,16.8,21.6,26], [5.5,6.3,7.2,8.6,11,14.4,18.6,22.8,27],
  [5.9,6.6,8.0,10.2,13.6,18.4,23.4,28.2], [5.3,6.2,7.1,8.7,11.4,15.2,20,24.6,29,33.6], [5.7,6.8,8.1,10.4,14,19.2,24.2,29.4,35],
  [5.5,6.4,7.4,8.8,11.6,15.8,21.2,26.4,31.2], [5.8,6.6,7.9,10.2,13.8,18.8,24.8,30.4,36], [5.4,6.3,7.2,8.7,11.4,15.6,20.6,25.8,30.8],
  [5.9,6.7,8.0,10.1,13.6,18.2,23.6,28.6], [5.5,6.4,7.3,8.6,11.2,14.8,19.2,23.4,27.4], [5.8,6.6,7.9,9.8,12.8,16.8,21.4,25.2],
  [5.3,6.2,7.2,8.5,10.8,14,17.6,21.6], [5.7,6.6,7.8,9.7,12.6,16.4,20.6], [5.4,6.4,7.3,8.6,10.6,13.6,16.8,20.4],
  [5.9,6.8,8.0,9.8,12.4,15.6,19.4], [5.5,6.3,7.2,8.4,10.6,13.4,16.6,20.6], [5.8,6.6,7.8,9.8,12.6,16,20.2],
  [5.4,6.4,7.4,8.6,11,14.2,18,22.4], [5.7,6.7,8.0,10,13,17,21.8,26.4]
];
var d131 = [
  [5.7,6.2,6.8,7.9,9.8,12.8,16.5,21.5,26], [5.5,6.0,6.6,7.6,9.4,12.4,16.5,21.5,26.5,30], [5.3,5.8,6.4,7.4,9.1,12.1,16.5,22,27,31],
  [5.8,6.3,6.9,8.1,10,13.4,18,23.5,29,34], [5.6,6.1,6.7,7.8,9.7,13,18,24,30,36], [5.4,5.9,6.5,7.6,9.5,12.8,17.5,23.5,30,37,42],
  [5.7,6.2,6.8,8.0,9.9,13.4,18.5,25,31,38], [5.2,5.7,6.3,7.4,9.2,12.5,17.5,24,31,39,44], [5.6,6.1,6.7,7.9,9.8,13.3,18.5,25,32,40],
  [5.5,6.0,6.6,7.7,9.6,13,18,24,30,36], [5.8,6.3,6.9,8.1,10,13.3,18,23.5,28.5], [5.3,5.8,6.4,7.4,9.2,12.3,16.5,21.5,26],
  [5.6,6.1,6.7,7.8,9.6,12.6,16.5,21], [5.4,5.9,6.5,7.5,9.3,12.1,15.5,20,24.5], [5.7,6.2,6.8,7.9,9.7,12.4,16,20],
  [5.5,6.0,6.6,7.6,9.3,12,15.5,19.5,23], [5.2,5.7,6.3,7.3,9.0,11.6,15,19,23.5], [5.8,6.3,6.9,8.0,9.8,12.5,16,20.5],
  [5.6,6.1,6.7,7.7,9.5,12.2,15.5,19.5,24], [5.4,5.9,6.5,7.5,9.2,11.9,15.5,20,25]
];
var d131b = [
  [5.4,6.3,7.2,8.7,11.2,14.6,19,23.8,28.4], [5.8,6.7,7.9,10.1,13.4,17.8,23.2,28.2,32.4], [5.5,6.4,7.3,8.8,11.6,15.6,20.6,25.8,31,35],
  [5.9,6.6,8.0,10.4,14,19.2,25,31.4,37.4], [5.3,6.2,7.2,8.9,11.8,16.2,21.8,27.8,33.8,40], [5.7,6.8,8.1,10.6,14.4,20,26.4,33.4,41],
  [5.5,6.4,7.4,9.0,12,16.6,22.6,29,35.6,43], [5.8,6.6,7.9,10.4,14.2,19.8,26.6,34,40.6], [5.4,6.3,7.2,8.9,11.8,16.4,22.4,28.4,34.8],
  [5.9,6.7,8.0,10.3,13.8,18.8,24.6,30.2], [5.5,6.4,7.3,8.7,11.4,15.2,20.2,25.2,30], [5.8,6.6,7.8,9.9,13,17.4,22.4,27],
  [5.3,6.2,7.2,8.6,10.9,14.4,18.4,22.8], [5.7,6.6,7.9,9.8,12.8,16.6,21.2], [5.4,6.4,7.3,8.6,10.8,13.8,17.6,21.6],
  [5.9,6.8,8.0,9.9,12.6,16.2,20.6], [5.5,6.3,7.2,8.5,10.7,13.8,17.6,21.8], [5.8,6.6,7.9,9.8,12.8,16.6,21.4],
  [5.4,6.4,7.4,8.7,11,14.4,18.4,22.6,27], [5.7,6.7,8.0,10.1,13.2,17.4,22.4,27.4]
];

// South Atlantic Anomaly passes: time of pass and the rates measured in it
var saaDays = [116.05,116.10,116.15,116.20, 116.74,116.79, 117.12,117.17, 117.40,
  117.76,117.81, 118.09,118.14, 118.76,118.81, 119.05,119.11,119.20, 119.74,119.79,
  120.03,120.08, 120.94,120.98, 121.73,121.77, 122.06,122.11, 122.68,122.73,
  123.03,123.08, 123.66,123.71, 124.01,124.06, 124.59, 124.93,124.97, 125.66,
  125.95,126.00, 126.66,126.70, 127.00,127.05, 127.30, 127.93,127.97, 128.10,
  128.52, 128.98,129.02, 129.60, 129.96,130.00, 130.20, 130.95,130.99, 131.26,
  131.88,131.93];
var saaRates = [
  [30,42,58,80,105,140,175,210,260,330,420,540,680,850,1050],
  [26,36,50,70,95,125,160,200,245,300,380,480,600,760,950,1150],
  [34,48,66,90,120,155,190,230,290,360,450,570,720,900,1100],
  [28,40,55,75,100,135,180,240,310],
  [27,36,50,68,92,125,170,230,310,420],
  [32,44,60,82,110,150,200,270,370,480,560],
  [29,41,58,82,115,160,225,310,430,580,760],
  [33,46,64,90,125,175,245,340,470,640,860,1050,1280],
  [40,46,53,61,70,80],
  [28,40,57,80,112,155,215,300,420,580,780],
  [31,45,63,88,122,170,235,330,460,640,850,1030],
  [27,39,56,79,110,155,215,300,420,590,820],
  [32,46,65,92,130,180,250,350,490,680,930,1200],
  [28,41,58,82,115,160,225,315,440,610,830],
  [33,47,66,93,130,185,260,360,500,700,950,1180],
  [26,37,53,75,105,150,210,290,400,560],
  [30,43,61,86,120,165,230,320,450,640,880],
  [35,48,65,88,120,165,225,300],
  [28,41,59,84,118,165,230,320,450,630,850],
  [32,46,65,92,130,180,250,350,490,690,900,1080],
  [27,39,56,80,113,158,220,310,430,600,820],
  [31,45,64,90,127,178,250,350,490,690,960,1230],
  [22,30,42,58,80,110,150,205,280,380,520,700,900,1100],
  [25,34,47,64,88,120,165,225,305,420,570,770],
  [27,39,56,80,112,158,220,310,430,600,850],
  [31,45,64,90,127,178,250,350,490,700,950],
  [28,41,59,84,118,165,230,320,450,630,880],
  [32,46,66,94,132,185,260,365,510,720,1000,1150],
  [27,39,56,80,113,158,220,310,430,600,800],
  [31,45,64,91,128,180,250,350,490,690,1000],
  [29,42,60,86,120,168,235,330,460,650,900],
  [33,47,67,95,134,188,265,370,520,730,1100],
  [28,40,57,81,114,160,225,315,440,620,820],
  [32,46,65,92,130,182,255,360,500,700,1000],
  [29,42,61,87,123,172,240,340,475,670,950],
  [33,48,68,97,137,193,270,380,535,750,1050,1300],
  [32,40,50,63,80,100,125,155,195],
  [27,39,56,80,113,158,220,310,430,600,820],
  [31,45,64,91,128,180,250,350,490,690,950,1150],
  [28,41,59,84,118,165,230,320,450,630,850,1000],
  [29,42,60,86,121,170,238,335,470,660,920],
  [33,47,67,96,135,190,265,370,520,730,1020,1300],
  [27,39,56,80,113,158,220,310,430,600,820],
  [31,45,64,91,128,180,250,350,490,690,950,1100],
  [28,41,59,84,118,165,230,320,450,630,880],
  [32,46,66,94,132,185,260,365,510,720,1150],
  [34,45,60,80,105,140,185,245,320,420,600],
  [28,40,57,81,114,160,225,315,440,620,830],
  [32,46,65,92,130,182,255,360,500,700,1000],
  [30,42,58,80,110,150,205,280,380,500],
  [32,40,50,62,78,98,122,150,180],
  [29,42,61,87,123,172,240,340,475,670,950],
  [33,48,68,97,137,193,270,380,535,750,1050,1200],
  [30,42,58,80,110,150,205,280,380,500],
  [28,41,59,84,118,165,230,320,450,630,880],
  [32,46,66,94,132,185,260,365,510,720,1000,1100],
  [31,43,60,84,117,163,228,320,450,620,720],
  [30,43,62,88,125,175,245,345,485,680,950],
  [34,49,70,100,141,198,278,390,550,780,1050,1250],
  [32,45,63,88,122,170,235,325,450,500],
  [28,41,59,84,118,165,230,320,450,630,880,1100],
  [27,39,57,82,116,163,228,320,450,640,850,1080]
];

// scattered single high readings outside the passes
var highDays  = [116.22,116.35,116.42,116.50,116.58,116.90,117.03,117.27,117.45,117.52,117.65,117.93,
  118.20,118.33,118.45,118.52,118.90,118.98,119.30,119.42,119.50,119.60,119.90,120.20,120.30,120.40,
  120.52,121.65,121.85,121.92,122.25,122.40,122.55,122.85,122.93,123.20,123.35,123.45,123.60,123.85,
  123.95,124.20,124.35,124.45,125.10,125.20,125.30,125.75,125.85,126.10,126.20,126.30,126.80,126.90,
  127.20,127.50,127.60,127.70,127.85,128.25,128.35,128.70,128.80,128.90,129.15,129.30,129.45,129.75,
  129.85,130.10,130.35,130.50,130.70,130.80,131.10,131.40,131.55,131.65,131.75,
  116.28,116.45,116.62,116.85,117.08,117.33,117.58,117.87,118.02,118.26,118.40,118.62,118.68,119.00,
  119.35,119.65,119.95,120.14,120.25,120.47,121.62,121.80,122.00,122.30,122.48,122.62,122.90,123.12,
  123.28,123.55,123.78,123.90,124.12,124.28,124.50,125.05,125.25,125.70,125.80,126.05,126.25,126.35,
  126.75,126.85,127.12,127.38,127.45,127.78,128.05,128.18,128.30,128.45,128.62,128.75,128.85,129.08,
  129.22,129.38,129.52,129.70,129.80,130.05,130.28,130.42,130.58,130.65,130.88,131.05,131.18,131.32,
  131.48,131.60,131.70,131.82];
var highRates = [62,88,130,40,55,75,110,48,180,70,140,60,
  95,45,220,66,120,52,75,160,300,58,85,140,55,90,
  40,65,110,48,75,160,48,95,200,60,130,42,85,150,
  56,70,110,52,90,160,55,70,130,85,48,120,60,180,
  75,45,95,140,55,70,110,48,90,150,60,95,45,120,
  70,130,52,88,200,60,90,55,140,70,230,
  52,36,95,44,66,120,42,90,48,150,64,38,105,68,
  44,130,50,72,210,62,40,150,60,46,100,58,40,90,
  48,62,180,45,80,44,70,48,100,52,210,70,42,65,
  46,95,60,40,72,48,85,120,44,62,56,130,42,70,
  48,58,110,44,65,48,66,48,120,52,80,46,130,70,
  60,50,95,55];

// readings just above the band tops
var midDays = [116.18,116.52,116.68, 117.06,117.36,117.55,117.70, 118.12,118.48,118.60,118.84,
  119.26,119.48,119.62,119.86, 120.12,120.35,120.55,120.92, 121.70,121.95, 122.20,122.45,122.60,122.80,
  123.15,123.42,123.58,123.75, 124.10,124.38,124.55, 125.08,125.28,125.78,125.92, 126.15,126.32,126.72,126.95,
  127.25,127.42,127.55,127.80, 128.02,128.28,128.42,128.58,128.82, 129.10,129.35,129.50,129.68,129.92,
  130.15,130.32,130.48,130.62,130.85, 131.08,131.36,131.52,131.62,131.78,131.92];
var midRates = [28,33,31, 27,30,34,29, 32,35,30,28, 29,33,36,27, 30,34,28,32, 26,31, 29,33,31,27,
  35,30,34,28, 31,36,38, 29,33,30,35, 32,28,30,34, 29,36,31,28, 33,38,42,35,31, 30,34,37,29,32,
  35,40,44,38,33, 36,46,50,42,37,48];

// low readings below the dense floor
var lowDays = [116.12,116.38,116.72,116.97, 117.22,117.48,117.83, 118.05,118.31,118.66,118.93,
  119.18,119.44,119.71,119.97, 120.23,120.36,120.58, 121.07,121.64,121.88, 122.14,122.36,122.77,
  123.04,123.31,123.63,123.88, 124.16,124.42,124.63,124.93, 125.18,125.33,125.72,125.98,
  126.22,126.38,126.68,126.93, 127.18,127.43,127.68,127.96, 128.22,128.47,128.73,128.97,
  129.23,129.48,129.73,129.98, 130.23,130.48,130.73,130.98, 131.23,131.48,131.73,131.96];
var lowRates = [4.9,5.0,4.8,5.1,4.7,5.0,4.9,5.1,4.8,4.9, 5.0,4.6,5.1,4.9,4.8,5.0,4.9,4.7,4.4,4.6,
  5.0,4.9,4.8,5.1,4.9,4.7,5.0,4.8,4.9,5.1, 4.8,4.9,5.0,4.7,4.6,4.9,5.0,4.8,4.5,5.0,
  4.9,5.1,4.8,5.0,4.9,4.7,5.0,4.9,4.8,5.1, 4.9,5.0,4.8,4.9,5.0,4.7,4.9,5.0,4.8,4.9];

var xMajor = [116,118,120,122,124,126,128,130,132];
var yMajor = [1,10,100,1000];
var yLabels = ["1","10","10|2","10|3"];

// ---- layout
var width = 884, height = 605;
var plotL = 101, plotR = 814, plotT = 68, plotB = 551;

var svg = d3.select("#chart").append("svg")
    .attr("width", width)
    .attr("height", height);

// canvas fill with the yellow canvas edge
svg.append("rect")
    .attr("x", 10).attr("y", 7)
    .attr("width", width - 10).attr("height", height - 7)
    .attr("fill", "#f2f2f2");
svg.append("path")
    .attr("d", "M10.5," + height + "V7.5H" + width)
    .attr("fill", "none")
    .attr("stroke", "#ffff44")
    .attr("stroke-width", 2);

var x = d3.scaleLinear().domain([116, 132]).range([plotL, plotR]);
var y = d3.scaleLog().domain([1, 1690]).range([plotB, plotT]);

// build the point list
var points = [];
function addDays(days, offset) {
  days.forEach(function(cols, k) {
    cols.forEach(function(vals, j) {
      vals.forEach(function(v) { points.push([116 + k + j * colStep + offset, v]); });
    });
  });
}
addDays([d116,d117,d118,d119,d120,d121,d122,d123,d124,d125,d126,d127,d128,d129,d130,d131], 0);
addDays([d116b,d117b,d118b,d119b,d120b,d121b,d122b,d123b,d124b,d125b,d126b,d127b,d128b,d129b,d130b,d131b], colStep / 2);
saaDays.forEach(function(t, i) {
  saaRates[i].forEach(function(v) { points.push([t, v]); });
});
highDays.forEach(function(t, i) { points.push([t, highRates[i]]); });
midDays.forEach(function(t, i) { points.push([t, midRates[i]]); });
lowDays.forEach(function(t, i) { points.push([t, lowRates[i]]); });

// frame
svg.append("rect")
    .attr("x", plotL + 0.5).attr("y", plotT + 0.5)
    .attr("width", plotR - plotL).attr("height", plotB - plotT)
    .attr("fill", "#f2f2f2")
    .attr("stroke", "#666");

svg.append("g")
    .attr("shape-rendering", "crispEdges")
  .selectAll("rect")
  .data(points)
  .join("rect")
    .attr("x", function(d) { return Math.round(x(d[0])) - 1; })
    .attr("y", function(d) { return Math.round(y(d[1])) - 1; })
    .attr("width", 2)
    .attr("height", 2)
    .attr("fill", "#000");

// x axis
var xMinor = d3.range(116.5, 132, 0.5).filter(function(v) { return v % 2 !== 0; });

svg.append("g")
    .attr("transform", "translate(0," + plotB + ")")
    .call(d3.axisBottom(x).tickValues(xMinor).tickSize(-7).tickFormat(""))
    .call(function(g) { g.select(".domain").remove(); });

var xAxis = svg.append("g")
    .attr("transform", "translate(0," + plotB + ")")
    .call(d3.axisBottom(x).tickValues(xMajor).tickSize(-14).tickPadding(9).tickFormat(d3.format("d")));
xAxis.select(".domain").attr("stroke", "#666");

// y axis
var yMinor = [];
[1, 10, 100, 1000].forEach(function(dec) {
  for (var m = 2; m <= 9; m++) if (dec * m < 1690) yMinor.push(dec * m);
});

svg.append("g")
    .attr("transform", "translate(" + plotL + ",0)")
    .call(d3.axisLeft(y).tickValues(yMinor).tickSize(-10).tickFormat(""))
    .call(function(g) { g.select(".domain").remove(); });

var yAxis = svg.append("g")
    .attr("transform", "translate(" + plotL + ",0)")
    .call(d3.axisLeft(y).tickValues(yMajor).tickSize(-21).tickPadding(8).tickFormat(""));
yAxis.select(".domain").attr("stroke", "#666");

svg.selectAll(".tick line").attr("stroke", "#555");

xAxis.selectAll("text")
    .attr("font-size", "22px")
    .attr("fill", "#000")
    .style("font-family", "'Liberation Sans', Arial, sans-serif")
    .style("font-weight", "bold");

// y tick labels with superscript exponents
yAxis.selectAll(".tick text").each(function(d, i) {
  var t = d3.select(this)
      .attr("font-size", "22px")
      .attr("fill", "#000")
      .attr("dy", "0.37em")
      .style("font-weight", "bold");
  var parts = yLabels[i].split("|");
  t.append("tspan").text(parts[0]);
  if (parts[1]) {
    t.append("tspan")
        .attr("font-size", "15px")
        .attr("dy", "-8")
        .text(parts[1]);
  }
});

// titles
svg.append("text")
    .attr("x", plotR)
    .attr("y", 598)
    .attr("text-anchor", "end")
    .attr("font-size", "22px")
    .text("DoY 2004");

svg.append("text")
    .attr("transform", "translate(49," + (plotT - 2) + ") rotate(-90)")
    .attr("text-anchor", "end")
    .attr("font-size", "22px")
    .text("trigger / s");

// title pave with shadow
svg.append("rect")
    .attr("x", 22.5).attr("y", 13)
    .attr("width", 318).attr("height", 35)
    .attr("fill", "#333");
svg.append("rect")
    .attr("x", 20.5).attr("y", 10.5)
    .attr("width", 318).attr("height", 35)
    .attr("fill", "#f2f2f2")
    .attr("stroke", "#222");
svg.append("text")
    .attr("x", 37)
    .attr("y", 35.5)
    .attr("font-size", "26px")
    .text("MATROSHKA DOSTEL");

</script>
</body>
</html>
